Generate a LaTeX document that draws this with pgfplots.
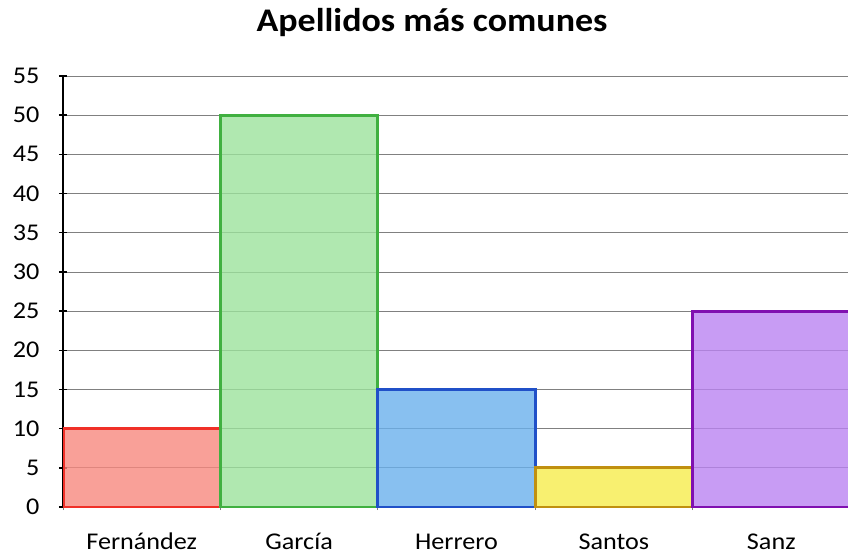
\documentclass[border=0pt]{standalone}
\usepackage{fontspec}
\setmainfont{Carlito}[FakeStretch=1.09]
\usepackage{pgfplots}
\pgfplotsset{compat=1.18}
\definecolor{fR}{RGB}{247,136,126}\definecolor{dR}{RGB}{240,48,40}
\definecolor{fG}{RGB}{156,226,156}\definecolor{dG}{RGB}{64,176,64}
\definecolor{fB}{RGB}{106,176,236}\definecolor{dB}{RGB}{32,80,200}
\definecolor{fY}{RGB}{246,236,76}\definecolor{dY}{RGB}{192,144,16}
\definecolor{fP}{RGB}{186,131,241}\definecolor{dP}{RGB}{128,16,176}
\begin{document}
\begin{tikzpicture}
\useasboundingbox (0pt,0pt) rectangle (848pt,-555pt);
\node[font=\bfseries\fontsize{33}{38}\selectfont, anchor=base] at (432pt,-31pt) {Apellidos más comunes};
\begin{axis}[at={(63pt,-507pt)}, anchor=south west, scale only axis,
  width=787pt, height=431pt,
  xmin=-0.5, xmax=4.5, ymin=0, ymax=55,
  ytick={0,5,...,55},
  xtick={0,...,4},
  xticklabels={Fernández,García,Herrero,Santos,Sanz},
  minor xtick={-0.5,0.5,...,4.5},
  major x tick style={draw=none},
  minor x tick style={gray, line width=0.8pt},
  minor tick length=6pt,
  major tick length=8pt,
  y tick style={black, line width=1.5pt},
  tick align=outside,
  axis lines=left, axis line style={-},
  y axis line style={black, line width=2pt},
  x axis line style={black!80, line width=1pt},
  ymajorgrids, grid style={gray, line width=0.8pt},
  /pgf/number format/assume math mode=true,
  ticklabel style={font=\fontsize{24}{28}\selectfont},
  yticklabel style={xshift=-16pt},
  xticklabel style={anchor=base, yshift=-38pt},
  clip=true,
]
\addplot[ybar, bar width=1, bar shift=0, draw=dR, fill=fR, fill opacity=0.8, draw opacity=1, line width=3pt] coordinates {(0,10)};
\addplot[ybar, bar width=1, bar shift=0, draw=dG, fill=fG, fill opacity=0.8, draw opacity=1, line width=3pt] coordinates {(1,50)};
\addplot[ybar, bar width=1, bar shift=0, draw=dB, fill=fB, fill opacity=0.8, draw opacity=1, line width=3pt] coordinates {(2,15)};
\addplot[ybar, bar width=1, bar shift=0, draw=dY, fill=fY, fill opacity=0.8, draw opacity=1, line width=3pt] coordinates {(3,5)};
\addplot[ybar, bar width=1, bar shift=0, draw=dP, fill=fP, fill opacity=0.8, draw opacity=1, line width=3pt] coordinates {(4,25)};
\end{axis}
\end{tikzpicture}
\end{document}
